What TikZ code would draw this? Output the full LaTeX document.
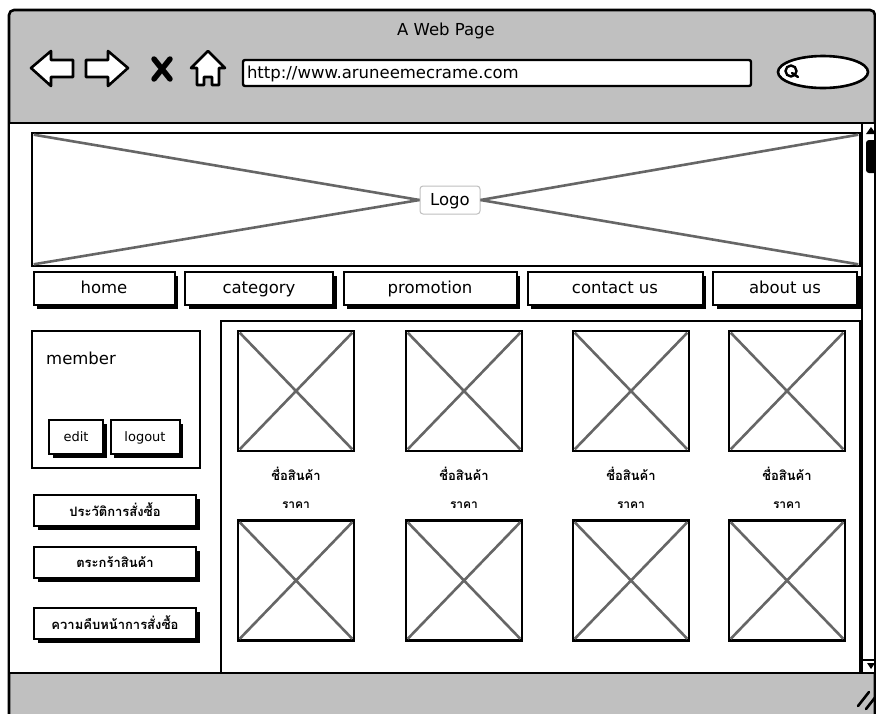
\documentclass[tikz,border=0pt]{standalone}
\usepackage{fontspec}
\setmainfont{DejaVu Sans}
\newfontfamily\thaifont[Script=Thai]{Loma}
\usetikzlibrary{shadows,shapes.geometric}
\definecolor{wingray}{HTML}{C0C0C0}
\definecolor{xgray}{HTML}{666666}
\begin{document}
\begin{tikzpicture}[x=1pt,y=-1pt,
  every node/.style={font=\fontsize{16.5}{19}\selectfont, inner sep=0pt},
  frame/.style={draw=black, line width=2.6pt},
  btn/.style={draw=black, line width=2pt, fill=white,
    drop shadow={shadow xshift=3.5pt, shadow yshift=-4pt, fill=black, opacity=1}},
  navbtn/.style={btn, minimum height=33, text height=13pt, text depth=2pt},
  imgbox/.style={draw=black, line width=2.6pt, fill=white, minimum width=116, minimum height=120},
  cross/.style={draw=xgray, line width=2.6pt},
  thaitxt/.style={font=\thaifont\bfseries\fontsize{13}{15}\selectfont},
  pricetxt/.style={font=\thaifont\bfseries\fontsize{12}{14}\selectfont},
  icon/.style={draw=black, line width=2.6pt, fill=white, line join=round}]
\useasboundingbox (0,0) rectangle (876,713);
\clip (0,0) rectangle (876,713);
\fill[white] (0,0) rectangle (876,713);
% window
\draw[frame, fill=wingray, rounded corners=5pt] (9,10) rectangle (875,740);
\fill[white] (10,124) rectangle (874,673);
\draw[frame] (9,123) -- (875,123);
\node (title) at (446,31) {A Web Page};
% navigation icons
\draw[icon] (31,68) -- (51,51) -- (51,60) -- (73,60) -- (73,77) -- (51,77) -- (51,86) -- cycle;
\draw[icon] (128,68) -- (108,51) -- (108,60) -- (86,60) -- (86,77) -- (108,77) -- (108,86) -- cycle;
\draw[black, line width=5.5pt, line cap=round] (154,59) -- (170,79) (170,59) -- (154,79);
\draw[icon] (208,51) -- (225,68) -- (219,68) -- (219,85) -- (212,85) -- (212,77) -- (204,77) -- (204,85) -- (197,85) -- (197,68) -- (191,68) -- cycle;
\node[draw=black, line width=2.4pt, fill=white, minimum width=508, minimum height=26, rounded corners=2pt, text width=500, align=left, text height=13pt, text depth=2pt] (url) at (497,73) {http://www.aruneemecrame.com};
\node[draw=black, line width=2.6pt, fill=white, ellipse, minimum width=90, minimum height=32] (search) at (823,72) {};
\draw[black, line width=2.4pt] (791,71) circle (5.5);
\draw[black, line width=2.4pt, line cap=round] (792,73) -- (798,77);
% scrollbar
\draw[frame] (862,124) -- (862,673);
\fill[black] (866,134) -- (871,127) -- (876,134) -- cycle;
\fill[black, rounded corners=3pt] (866,140) rectangle (880,173);
\draw[black, line width=1.5pt] (862,660) -- (876,660);
\fill[black] (867,663) -- (875,663) -- (871,669) -- cycle;
% resize grip
\draw[black, line width=2.6pt, line cap=round] (858,706) -- (869,692) (866,709) -- (877,695);
% logo banner
\node[draw=black, line width=2.6pt, fill=white, minimum width=828, minimum height=133] (banner) at (446,199.5) {};
\node[draw=black!25, line width=1pt, fill=white, rounded corners=3pt, minimum width=60, minimum height=28, text height=12.5pt, text depth=2.5pt] (logo) at (450,200) {Logo};
\draw[cross] ([shift={(3,3)}]banner.north west) -- (logo.west);
\draw[cross] ([shift={(3,-3)}]banner.south west) -- (logo.west);
\draw[cross] ([shift={(-3,3)}]banner.north east) -- (logo.east);
\draw[cross] ([shift={(-3,-3)}]banner.south east) -- (logo.east);
% menu
\node[navbtn, minimum width=141] (home) at (104,288) {home};
\node[navbtn, minimum width=148] (category) at (259,288) {category};
\node[navbtn, minimum width=173] (promotion) at (430,288) {promotion};
\node[navbtn, minimum width=175] (contact) at (615,288) {contact us};
\node[navbtn, minimum width=144] (about) at (785,288) {about us};
% member box
\node[draw=black, line width=2.6pt, fill=white, minimum width=168, minimum height=137] (member) at (116,399.5) {};
\node[anchor=west] (memberlbl) at (46,358) {member};
\node[btn, font=\fontsize{13}{15}\selectfont, minimum width=54, minimum height=34, text height=11pt, text depth=2pt] (edit) at (76,437) {edit};
\node[btn, font=\fontsize{13}{15}\selectfont, minimum width=69, minimum height=34, text height=11pt, text depth=2pt] (logout) at (145,437) {logout};
% side buttons
\node[btn, thaitxt, minimum width=162, minimum height=31] (history) at (115,510) {ประวัติการสั่งซื้อ};
\node[btn, thaitxt, minimum width=162, minimum height=31] (cart) at (115,562) {ตระกร้าสินค้า};
\node[btn, thaitxt, minimum width=162, minimum height=31] (progress) at (115,623) {ความคืบหน้าการสั่งซื้อ};
% products panel
\draw[frame] (221,321) rectangle (860,673);
\foreach \i/\x in {1/296,2/464,3/631,4/787}{
  \node[imgbox] (pa\i) at (\x,391) {};
  \draw[cross] ([shift={(3,3)}]pa\i.north west) -- ([shift={(-3,-3)}]pa\i.south east);
  \draw[cross] ([shift={(-3,3)}]pa\i.north east) -- ([shift={(3,-3)}]pa\i.south west);
  \node[thaitxt] (na\i) at (\x,474) {ชื่อสินค้า};
  \node[pricetxt] (ra\i) at (\x,505) {ราคา};
  \node[imgbox] (pb\i) at (\x,580.5) {};
  \draw[cross] ([shift={(3,3)}]pb\i.north west) -- ([shift={(-3,-3)}]pb\i.south east);
  \draw[cross] ([shift={(-3,3)}]pb\i.north east) -- ([shift={(3,-3)}]pb\i.south west);
}
\draw[frame] (9,673) -- (875,673);
\end{tikzpicture}
\end{document}
